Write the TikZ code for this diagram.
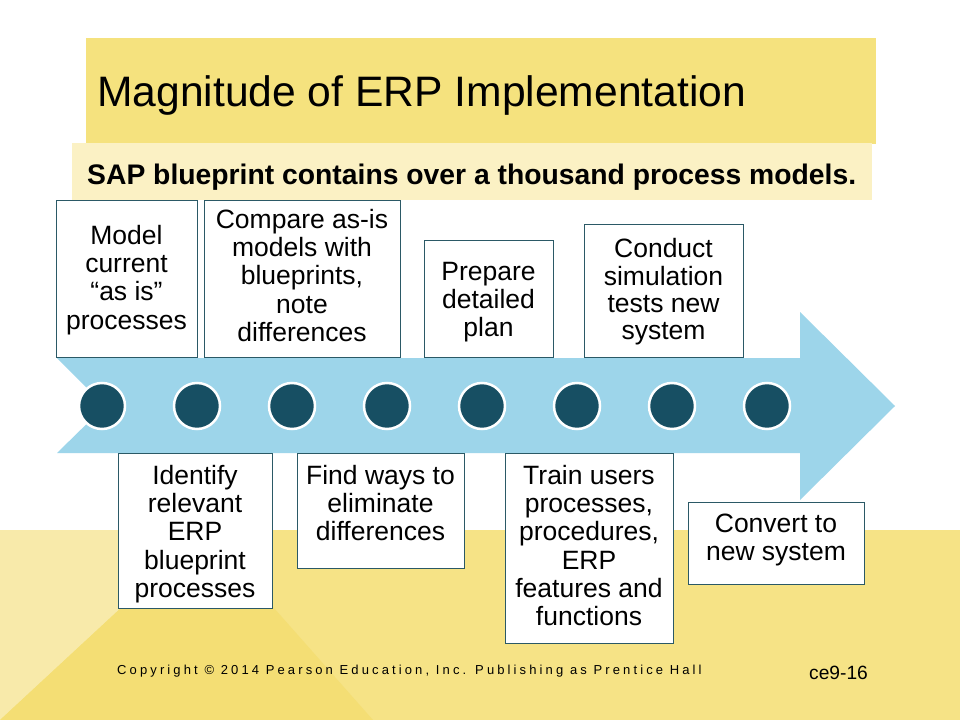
\documentclass[tikz,border=0pt]{standalone}
\usepackage{fontspec}
\setmainfont{Liberation Sans}
\newfontfamily\spacedfont[LetterSpace=24]{Liberation Sans}
\definecolor{titleyel}{HTML}{F5E27E}
\definecolor{subyel}{HTML}{FBF1C4}
\definecolor{bandyel}{HTML}{F6E386}
\definecolor{lightyel}{HTML}{F8EAAA}
\definecolor{darkyel}{HTML}{F4DE74}
\definecolor{arrowblue}{HTML}{9DD5EA}
\definecolor{dotteal}{HTML}{174F63}
\definecolor{boxline}{HTML}{2B5966}
\tikzset{
  stepbox/.style={draw=boxline, line width=0.8bp, fill=white, rectangle, inner sep=0pt},
  steptext/.style={anchor=north, align=center, inner sep=0pt, font=\fontsize{26.5bp}{28.3bp}\selectfont},
  dot/.style={circle, fill=dotteal, draw=white, line width=2.5bp, minimum size=46bp, inner sep=0pt},
}
\begin{document}
\begin{tikzpicture}[x=1bp,y=-1bp]
\useasboundingbox (0,0) rectangle (960,720);
\fill[white] (0,0) rectangle (960,720);
% bottom band
\fill[bandyel] (0,530) rectangle (960,720);
\fill[lightyel] (0,530) -- (205,530) -- (0,720) -- cycle;
\fill[darkyel] (205,530) -- (373,720) -- (0,720) -- cycle;
% title boxes
\node[fill=titleyel, minimum width=790bp, minimum height=106bp, inner sep=0pt] (titlebox) at (481,91) {};
\node[fill=subyel, minimum width=800bp, minimum height=56bp, inner sep=0pt] (subbox) at (472,171.5) {};
\node[anchor=base west, inner sep=0pt, font=\fontsize{42.6bp}{48bp}\selectfont] (title) at (97,107) {Magnitude of ERP Implementation};
\node[anchor=base west, inner sep=0pt, font=\fontsize{28.3bp}{32bp}\selectfont\bfseries] (subtitle) at (87,185) {SAP blueprint contains over a thousand process models.};
% arrow
\fill[arrowblue] (57,358) -- (800,358) -- (800,312) -- (895,406) -- (800,500) -- (800,453) -- (57,453) -- (105,406) -- cycle;
% dots
\foreach \i/\x in {1/102,2/197,3/292,4/387,5/482,6/577,7/672,8/767} {
  \node[dot] (d\i) at (\x,406) {};
}
% top boxes
\node[stepbox, minimum width=141bp, minimum height=157bp] (t1) at (126.5,278.5) {};
\node[steptext] (t1text) at (126.5,224.2) {\strut Model\\current\\“as is”\\processes};
\node[stepbox, minimum width=196bp, minimum height=157bp] (t2) at (302,278.5) {};
\node[steptext] (t2text) at (302,208.2) {\strut Compare as-is\\models with\\blueprints,\\note\\differences};
\node[stepbox, minimum width=129bp, minimum height=117bp] (t3) at (488.5,298.5) {};
\node[steptext] (t3text) at (488.5,260.2) {\strut Prepare\\detailed\\plan};
\node[stepbox, minimum width=159bp, minimum height=133bp] (t4) at (663.5,290.5) {};
\node[steptext, font=\fontsize{26.5bp}{27bp}\selectfont] (t4text) at (663.5,238.1) {\strut Conduct\\simulation\\tests new\\system};
% bottom boxes
\node[stepbox, minimum width=154bp, minimum height=155bp] (b1) at (195,530.5) {};
\node[steptext] (b1text) at (195,464.2) {\strut Identify\\relevant\\ERP\\blueprint\\processes};
\node[stepbox, minimum width=167bp, minimum height=115bp] (b2) at (380.5,510.5) {};
\node[steptext] (b2text) at (380.5,464.2) {\strut Find ways to\\eliminate\\differences};
\node[stepbox, minimum width=168bp, minimum height=190bp] (b3) at (589,548) {};
\node[steptext] (b3text) at (589,464.2) {\strut Train users\\processes,\\procedures,\\ERP\\features and\\functions};
\node[stepbox, minimum width=176bp, minimum height=82bp] (b4) at (776,543) {};
\node[steptext] (b4text) at (776,512.2) {\strut Convert to\\new system};
% footer
\node[anchor=base west, inner sep=0pt, font=\fontsize{13bp}{15bp}\spacedfont] (copyright) at (117,674) {Copyright © 2014 Pearson Education, Inc. Publishing as Prentice Hall};
\node[anchor=base west, inner sep=0pt, font=\fontsize{19.2bp}{22bp}\selectfont] (slideno) at (809,679) {ce9-16};
\end{tikzpicture}
\end{document}
